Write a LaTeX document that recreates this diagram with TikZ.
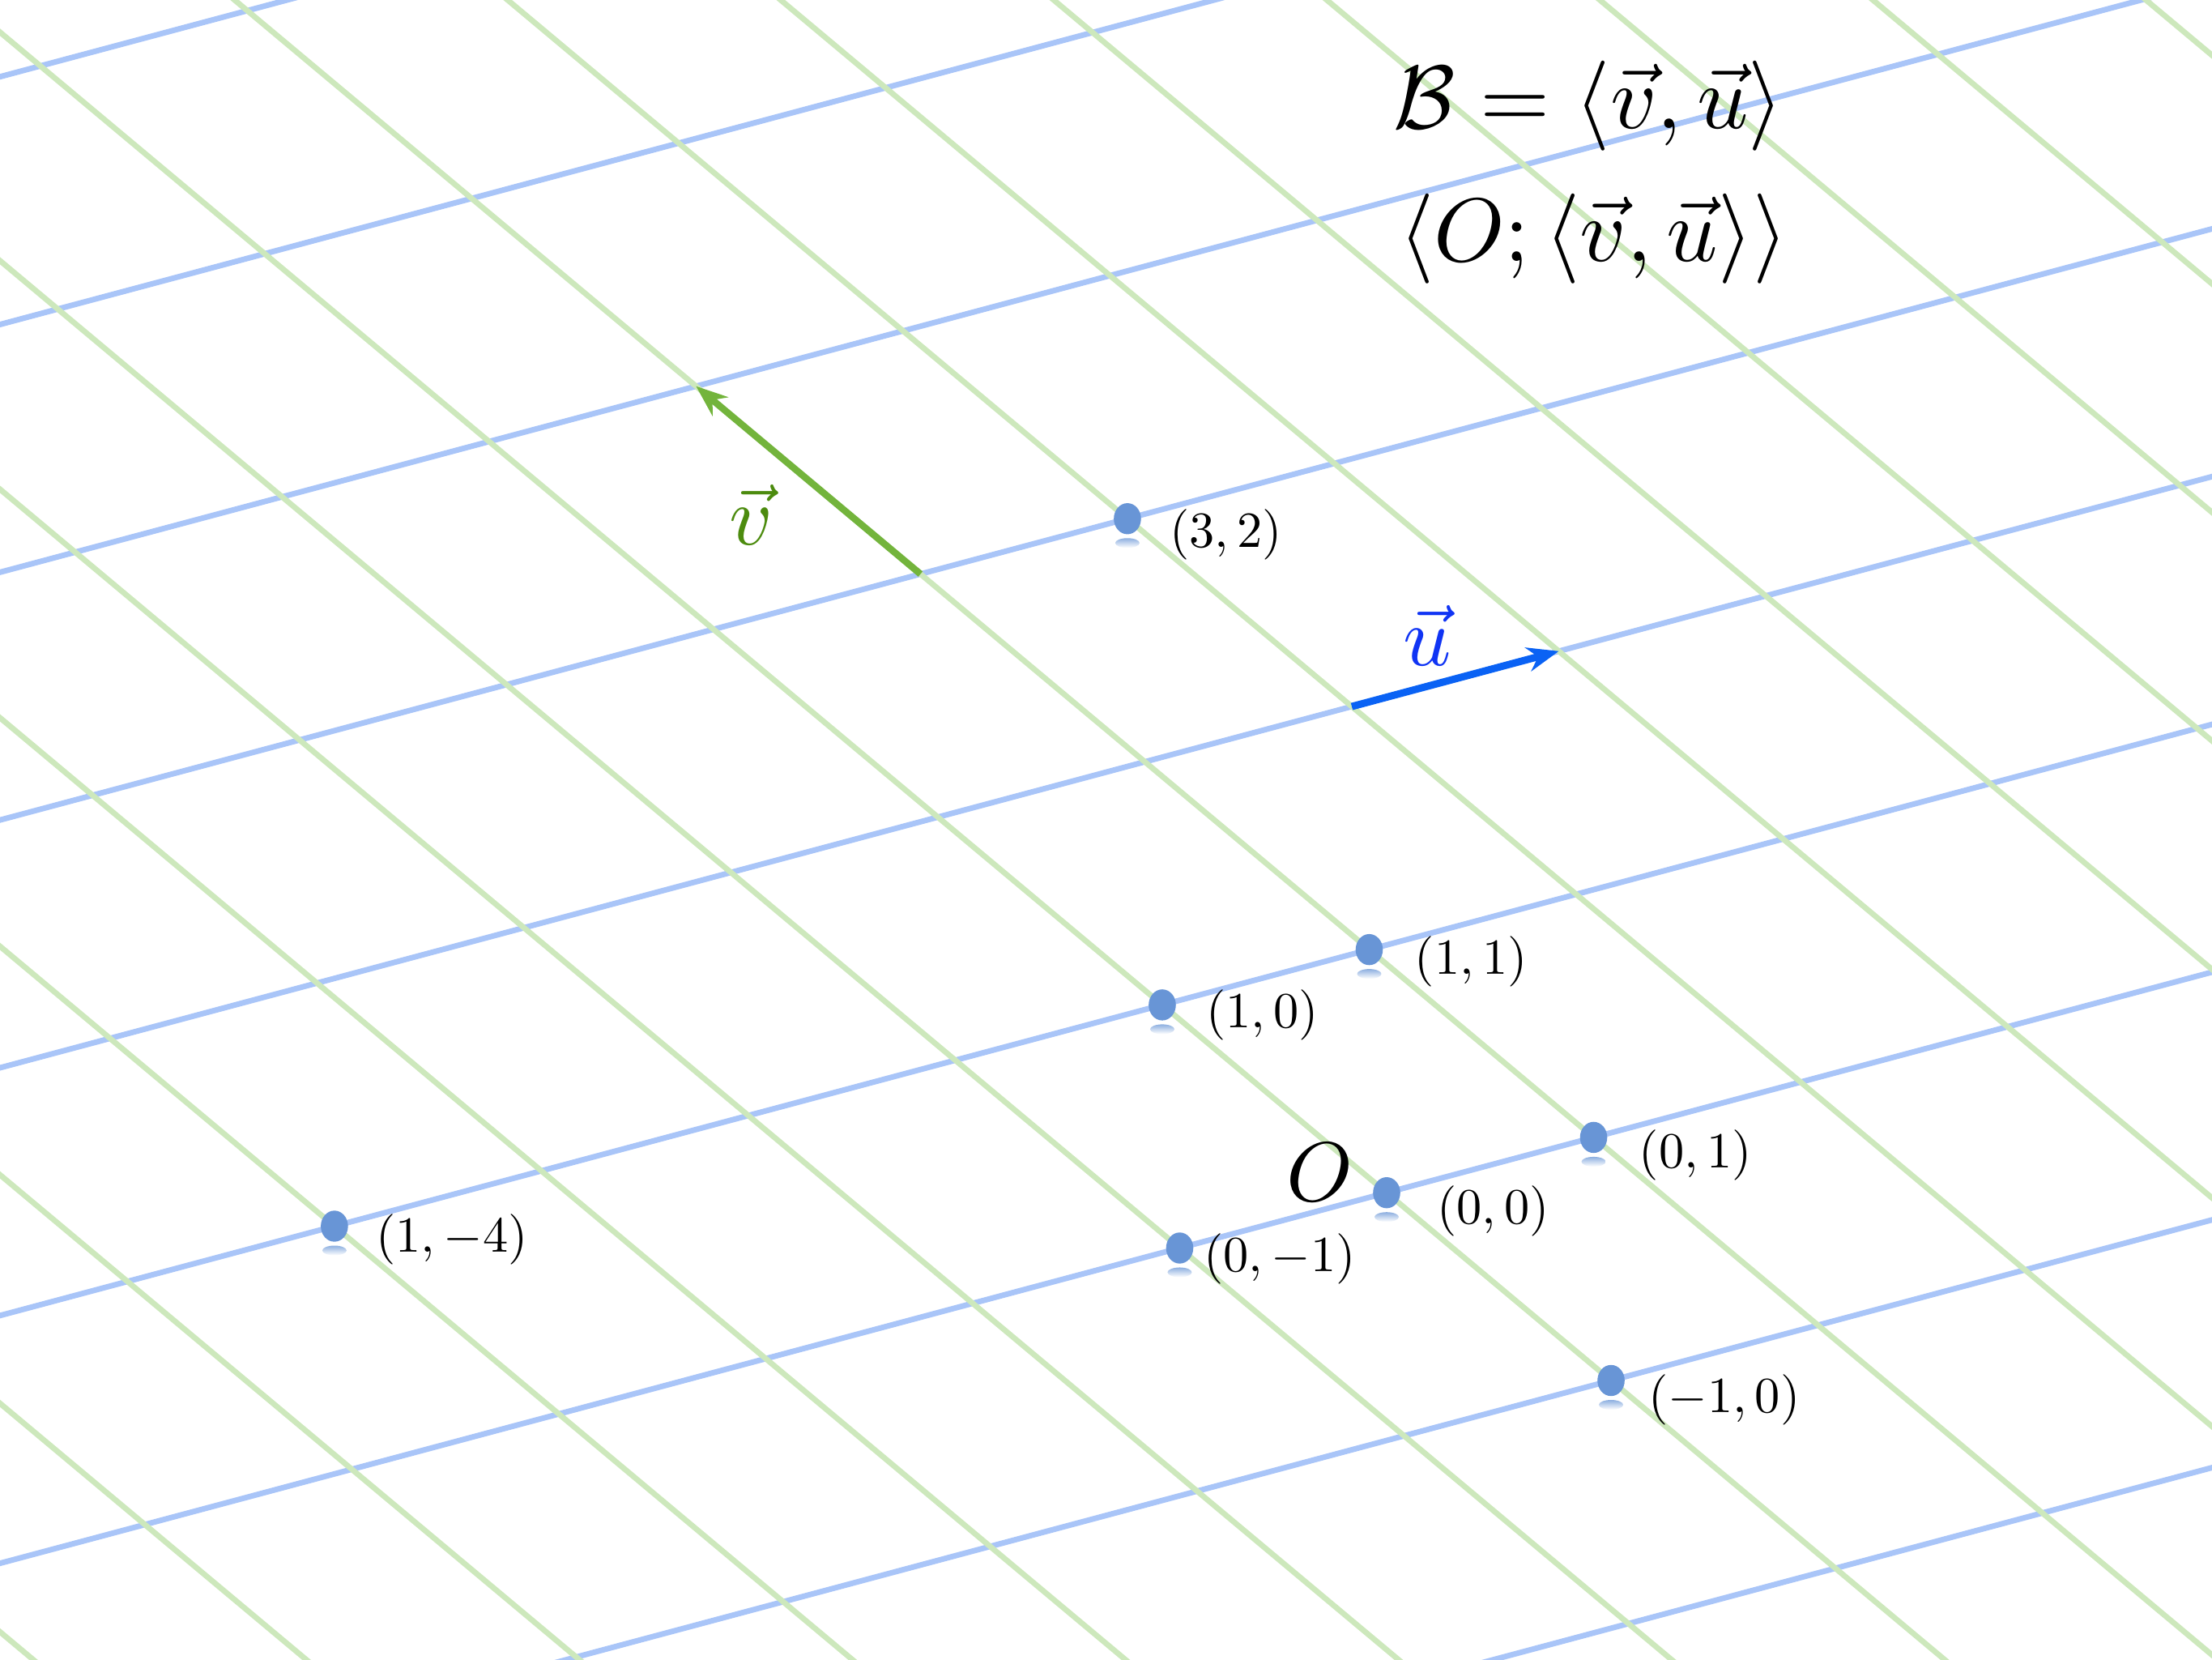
\documentclass[tikz,border=0pt]{standalone}
\usetikzlibrary{arrows.meta,shapes.geometric}

\begin{document}
\begin{tikzpicture}
    \def\gridWidth{1.15pt}

    \definecolor{gridBlue}{HTML}{A9C5F8}
    \definecolor{gridGreen}{HTML}{CDE8BC}
    \definecolor{arrowBlue}{HTML}{0A62F4}
    \definecolor{arrowGreen}{HTML}{73B43C}
    \definecolor{textBlue}{HTML}{1034F4}
    \definecolor{textGreen}{HTML}{4C8B0E}
    \definecolor{pointColour}{HTML}{6895D6}

    \tikzset{
        pointDot/.style={ellipse, fill=pointColour, inner sep=0pt, minimum width=5.6pt, minimum height=6.4pt},
        pointShine/.style={ellipse, inner sep=0pt, minimum width=5pt, minimum height=2pt, top color=pointColour!75, bottom color=white},
        pointLabel/.style={anchor=west, inner sep=0pt, scale=1.04},
        bigMath/.style={scale=1.73}
    }

    % Picture frame, origin at O
    \useasboundingbox (-10.03,-3.375) rectangle (5.97,8.625);
    \clip (-10.03,-3.375) rectangle (5.97,8.625);

    % Skewed frame: first coordinate along v, second along u
    \begin{scope}[x={(-1.623cm,1.358cm)}, y={(1.497cm,0.400cm)}]
        % Draw grid
        \foreach \a in {-3,...,7}
            \draw[gridBlue, line width=\gridWidth] (\a,-8) -- (\a,9);
        \foreach \b in {-8,...,9}
            \draw[gridGreen, line width=\gridWidth] (-3,\b) -- (7,\b);

        % Basis vectors
        \coordinate (V0) at (3,1);
        \coordinate (V1) at (4,1);
        \coordinate (U0) at (2,2);
        \coordinate (U1) at (2,3);

        % Points of the grid
        \foreach \a/\b/\name in {0/0/P00, 0/1/P01, 1/0/P10, 1/1/P11, -1/0/Pm10, 0/-1/P0m1, 3/2/P32, 1/-4/P1m4}
            \coordinate (\name) at (\a,\b);
    \end{scope}

    \draw[arrowGreen, line width=1.4pt, -{Stealth[length=6.5pt,width=5pt]}] (V0) -- (V1)
        node[midway, xshift=-11.7pt, yshift=-7.1pt, text=textGreen, bigMath] (vLabel) {$\vec{v}$};
    \draw[arrowBlue, line width=1.5pt, -{Stealth[length=6.5pt,width=5pt]}] (U0) -- (U1)
        node[midway, xshift=-5.7pt, yshift=9pt, text=textBlue, bigMath] (uLabel) {$\vec{u}$};

    % Dots and their coordinates
    \foreach \a/\b/\name/\dx/\dy in {0/0/P00/10.2/3.7, 0/1/P01/9.2/3.7, 1/0/P10/8.8/2, 1/1/P11/9.2/2.5,
                                     -1/0/Pm10/7.5/4, 0/-1/P0m1/4.8/2.3, 3/2/P32/8.5/3.3, 1/-4/P1m4/8.4/2.7}
    {
        \node[pointShine] (\name-shine) at ([yshift=-5pt]\name) {};
        \node[pointDot] (\name-dot) at (\name) {};
        \node[pointLabel] (\name-label) at ([xshift=\dx pt, yshift=-\dy pt]\name) {$(\a,\b)$};
    }
    \node[bigMath] (originLabel) at ([xshift=-13.7pt, yshift=4.2pt]P00) {$O$};

    % Basis and frame
    \node[anchor=base, scale=1.85] (basisText) at (1.46,7.698) {$\mathcal{B}=\langle\vec{v},\vec{u}\rangle$};
    \node[anchor=base, scale=1.85] (frameText) at (1.495,6.738) {$\langle O;\langle\vec{v},\vec{u}\rangle\rangle$};

\end{tikzpicture}
\end{document}
